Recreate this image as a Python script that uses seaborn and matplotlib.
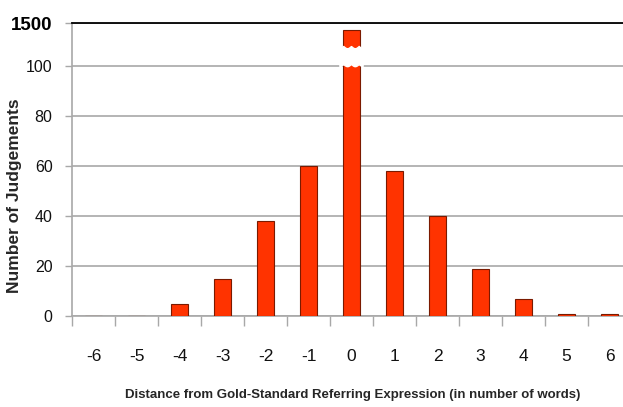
import numpy as np
import pandas as pd
import matplotlib
matplotlib.use("Agg")
import matplotlib.pyplot as plt
import matplotlib.transforms as mtransforms
import seaborn as sns

# Data
distances = [-6, -5, -4, -3, -2, -1, 0, 1, 2, 3, 4, 5, 6]
judgements = [0, 0, 5, 15, 38, 60, 1260, 58, 40, 19, 7, 1, 1]
ytick_vals = [0, 20, 40, 60, 80, 100, 1500]
xlabel = "Distance from Gold-Standard Referring Expression (in number of words)"
ylabel = "Number of Judgements"

df = pd.DataFrame({"dist": [str(d) for d in distances], "n": judgements})

sns.set_theme(style="white")
plt.rcParams['font.family'] = ['Liberation Sans', 'DejaVu Sans']

# broken axis: values above 100 are compressed
BREAK = 100
K = 17.4 / 1400.0

def fwd(v):
    v = np.asarray(v, dtype=float)
    return np.where(v <= BREAK, v, BREAK + (v - BREAK) * K)

def inv(p):
    p = np.asarray(p, dtype=float)
    return np.where(p <= BREAK, p, BREAK + (p - BREAK) / K)

fig = plt.figure(figsize=(6.23, 4.07), dpi=100)
ax = fig.add_axes([72 / 623, 91 / 407, 559 / 623, (316 - 23) / 407])

sns.barplot(data=df, x="dist", y="n", ax=ax, color="#ff3300", saturation=1,
            width=0.4, edgecolor="#7a1a00", linewidth=0.8, zorder=3)

ax.set_yscale('function', functions=(fwd, inv))
ax.set_ylim(0, 1500)
ax.set_xlim(-0.5, 12.5)

ax.set_yticks(ytick_vals)
ax.set_yticklabels([str(v) for v in ytick_vals])
ax.yaxis.grid(True, color="#a8a8a8", linewidth=1.2, zorder=0)
ax.set_axisbelow(True)
for lab in ax.get_yticklabels():
    lab.set_fontsize(11.5)
    lab.set_color("#111111")
top_lab = ax.get_yticklabels()[-1]
top_lab.set_fontsize(13.5)
top_lab.set_fontweight("bold")
top_lab.set_color("black")
ax.tick_params(axis="y", length=5, width=1, color="#a8a8a8", pad=9, left=True)

# x ticks: labels at centers, marks at boundaries
ax.set_xticks(range(len(distances)))
ax.set_xticklabels([str(d) for d in distances], fontsize=12.5, color="#111111")
ax.set_xticks(np.arange(-0.5, len(distances), 1.0), minor=True)
ax.tick_params(axis="x", which="major", length=0, pad=24)
ax.tick_params(axis="x", which="minor", length=7, width=1, color="#a8a8a8",
               direction="out", bottom=True)

ax.spines["right"].set_visible(False)
ax.spines["top"].set_color("black")
ax.spines["top"].set_linewidth(1.3)
ax.spines["left"].set_color("#a8a8a8")
ax.spines["bottom"].set_color("#a8a8a8")
ax.spines["left"].set_linewidth(1.2)
ax.spines["bottom"].set_linewidth(1.2)

ax.set_xlabel(xlabel, fontsize=9.5, fontweight="bold")
ax.xaxis.set_label_coords((353 - 72) / 559, -(389 - 316) / 293)
ax.set_ylabel(ylabel, fontsize=12.5, fontweight="bold")
ax.yaxis.set_label_coords(-(72 - 22) / 559, (316 - 196) / 293)

# zigzag break over the tall bar
i0 = distances.index(0)
trans = mtransforms.blended_transform_factory(ax.transData, ax.transAxes)
ytop_ax = fwd(1500)
xs = np.linspace(i0 - 0.27, i0 + 0.27, 60)
wave = 0.9 * np.abs(np.sin((xs - i0) * np.pi / 0.18))
upper = (108.0 - wave) / ytop_ax
lower = (100.8 - wave) / ytop_ax
poly_x = np.concatenate([xs, xs[::-1]])
poly_y = np.concatenate([upper, lower[::-1]])
ax.fill(poly_x, poly_y, color="white", transform=trans, zorder=5, clip_on=False)

fig.savefig("out.png", dpi=100)
